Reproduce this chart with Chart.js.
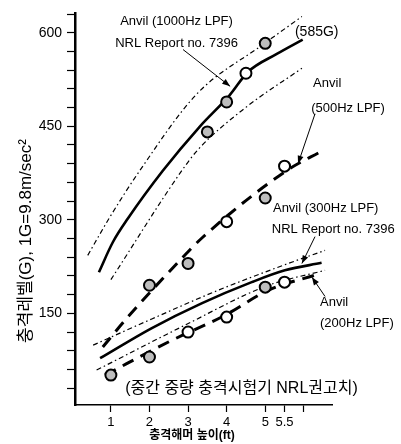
<!DOCTYPE html>
<html>
<head>
<meta charset="utf-8">
<script src="https://cdn.jsdelivr.net/npm/chart.js@4.4.1/dist/chart.umd.min.js"></script>
<style>
  body { margin: 0; background: #fff; }
  #wrap { width: 401px; height: 444px; }
</style>
</head>
<body>
<div id="wrap"><canvas id="impactChart" width="401" height="444"></canvas></div>
<script>
// hammer drop height (ft) vs shock level (G)
const xTicks = [1, 2, 3, 4, 5, 5.5, 6];
const xTickLabels = ['1', '2', '3', '4', '5', '5.5', ''];
const yTicks = [30, 60, 90, 120, 150, 180, 210, 240, 270, 300, 330, 360, 390, 420, 450, 480, 510, 540, 570, 600, 630];
const yLabelled = [150, 300, 450, 600];

// NRL Report no. 7396 - upper curve with its band
const nrlHighX = [0.69, 1.05, 1.44, 2.35, 3.31, 4.08, 4.55, 5.30, 5.97];
const nrlHighY = [216, 264, 302, 379, 450, 500, 537, 566, 589];
const nrlHighTopX = [0.40, 0.97, 1.75, 3.23, 4.94, 5.95];
const nrlHighTopY = [243, 304, 379, 502, 581, 626];
const nrlHighBotX = [1.0, 2.84, 3.25, 4.47, 5.95];
const nrlHighBotY = [204, 379, 412, 479, 543];

// Anvil (500Hz LPF)
const anvil500X = [0.79, 1.41, 2.79, 3.38, 5.56, 6.49];
const anvil500Y = [96, 142, 235, 272, 379, 411];

// NRL Report no. 7396 - lower curve with its band
const nrlLowX = [0.72, 2.05, 3.35, 4.65, 5.51, 6.46];
const nrlLowY = [78, 126, 166, 200, 219, 231];
const nrlLowTopX = [0.54, 2.06, 3.78, 5.51, 6.55];
const nrlLowTopY = [99, 141, 187, 228, 251];
const nrlLowBotX = [0.63, 2.92, 5.04, 6.55];
const nrlLowBotY = [59, 131, 194, 219];

// Anvil (200Hz LPF)
const anvil200X = [0.85, 2.49, 3.96, 5.08, 6.33];
const anvil200Y = [51, 104, 147, 187, 212];

// measured points (shaded / open circles)
const shadedX = [3.5, 4, 5, 2, 3, 5, 1, 2, 5];
const shadedY = [441, 489, 583, 195, 230, 335, 51, 80, 192];
const openX = [4.5, 4, 5.5, 3, 4, 5.5];
const openY = [535, 297, 386, 120, 144, 200];

const FONT = '"Liberation Sans", Arial, "Noto Sans CJK KR", sans-serif';

function pts(xs, ys) {
    return xs.map((x, i) => ({ x: x, y: ys[i] }));
}

function curve(xs, ys, kind) {
    const ds = {
        type: 'line',
        data: pts(xs, ys),
        borderColor: '#000',
        pointRadius: 0,
        fill: false,
        cubicInterpolationMode: 'monotone',
        order: 2
    };
    if (kind === 'solid') {
        ds.borderWidth = 2.6;
    } else if (kind === 'dashdot') {
        ds.borderWidth = 1.2;
        ds.borderDash = [5, 3, 1.5, 3];
    } else {
        ds.borderWidth = 3;
        ds.borderDash = [12, 8];
    }
    return ds;
}

// text labels and arrows, placed in data units
const notes = [
    { text: 'Anvil (1000Hz LPF)', x: 1.24, y: 618, size: 13 },
    { text: 'NRL Report no. 7396', x: 1.11, y: 583, size: 13 },
    { text: '(585G)', x: 5.77, y: 601, size: 14 },
    { text: 'Anvil', x: 6.24, y: 518, size: 13 },
    { text: '(500Hz LPF)', x: 6.19, y: 479, size: 13 },
    { text: 'Anvil (300Hz LPF)', x: 5.20, y: 319, size: 13 },
    { text: 'NRL Report no. 7396', x: 5.17, y: 284, size: 13 },
    { text: 'Anvil', x: 6.42, y: 168, size: 13 },
    { text: '(200Hz LPF)', x: 6.42, y: 134, size: 13 },
    { text: '(중간 중량 충격시험기 NRL권고치)', x: 1.37, y: 30, size: 16 }
];
const arrows = [
    [2.87, 573, 4.09, 514],
    [6.29, 470, 5.85, 390],
    [6.29, 273, 5.95, 230],
    [6.55, 177, 6.21, 208]
];

const annotations = {
    id: 'annotations',
    afterDraw(chart) {
        const ctx = chart.ctx;
        const sx = chart.scales.x, sy = chart.scales.y;
        ctx.save();
        ctx.fillStyle = '#000';
        ctx.strokeStyle = '#000';
        ctx.textBaseline = 'middle';
        ctx.textAlign = 'left';
        notes.forEach(n => {
            ctx.font = n.size + 'px ' + FONT;
            ctx.fillText(n.text, sx.getPixelForValue(n.x), sy.getPixelForValue(n.y));
        });

        ctx.lineWidth = 1;
        arrows.forEach(a => {
            const x1 = sx.getPixelForValue(a[0]), y1 = sy.getPixelForValue(a[1]);
            const x2 = sx.getPixelForValue(a[2]), y2 = sy.getPixelForValue(a[3]);
            const ang = Math.atan2(y2 - y1, x2 - x1);
            ctx.beginPath();
            ctx.moveTo(x1, y1);
            ctx.lineTo(x2, y2);
            ctx.stroke();
            ctx.beginPath();
            ctx.moveTo(x2, y2);
            ctx.lineTo(x2 - 8 * Math.cos(ang) + 3 * Math.sin(ang), y2 - 8 * Math.sin(ang) - 3 * Math.cos(ang));
            ctx.lineTo(x2 - 8 * Math.cos(ang) - 3 * Math.sin(ang), y2 - 8 * Math.sin(ang) + 3 * Math.cos(ang));
            ctx.closePath();
            ctx.fill();
        });

        // axis titles
        ctx.textAlign = 'center';
        ctx.font = '17px ' + FONT;
        ctx.translate(26, 241);
        ctx.rotate(-Math.PI / 2);
        ctx.fillText('충격레벨(G), 1G=9.8m/sec²', 0, 0);
        ctx.setTransform(1, 0, 0, 1, 0, 0);
        ctx.font = 'bold 12px ' + FONT;
        ctx.fillText('충격해머 높이(ft)', 192, 436);
        ctx.restore();
    }
};

const ctx = document.getElementById('impactChart').getContext('2d');
new Chart(ctx, {
    type: 'scatter',
    data: {
        datasets: [
            {
                data: pts(shadedX, shadedY),
                pointRadius: 5.5,
                pointBorderWidth: 2,
                borderColor: '#000',
                backgroundColor: '#bdbdbd',
                order: 0
            },
            {
                data: pts(openX, openY),
                pointRadius: 5.5,
                pointBorderWidth: 2,
                borderColor: '#000',
                backgroundColor: '#fff',
                order: 0
            },
            curve(nrlHighX, nrlHighY, 'solid'),
            curve(nrlHighTopX, nrlHighTopY, 'dashdot'),
            curve(nrlHighBotX, nrlHighBotY, 'dashdot'),
            curve(anvil500X, anvil500Y, 'dashed'),
            curve(nrlLowX, nrlLowY, 'solid'),
            curve(nrlLowTopX, nrlLowTopY, 'dashdot'),
            curve(nrlLowBotX, nrlLowBotY, 'dashdot'),
            curve(anvil200X, anvil200Y, 'dashed')
        ]
    },
    options: {
        responsive: false,
        animation: false,
        devicePixelRatio: 1,
        layout: { padding: { left: 0, top: 12, right: 69, bottom: 0 } },
        plugins: { legend: { display: false }, tooltip: { enabled: false } },
        scales: {
            x: {
                type: 'linear',
                min: 0.07,
                max: 6.73,
                border: { display: true, color: '#000', width: 1.5 },
                grid: { drawOnChartArea: false, drawTicks: true, tickLength: 7, tickColor: '#000', tickWidth: 1.2 },
                ticks: {
                    color: '#000',
                    font: { family: FONT, size: 13 },
                    padding: 3,
                    autoSkip: false,
                    maxRotation: 0,
                    callback: (v) => {
                        const i = xTicks.indexOf(v);
                        return i >= 0 ? xTickLabels[i] : '';
                    }
                },
                afterBuildTicks: (axis) => { axis.ticks = xTicks.map(v => ({ value: v })); },
                afterFit: (axis) => { axis.height = 39; }
            },
            y: {
                type: 'linear',
                min: 3,
                max: 631,
                border: { display: true, color: '#000', width: 2.5 },
                grid: { drawOnChartArea: false, drawTicks: true, tickLength: 8, tickColor: '#000', tickWidth: 1.2 },
                ticks: {
                    color: '#000',
                    font: { family: FONT, size: 14 },
                    padding: 5,
                    autoSkip: false,
                    callback: (v) => yLabelled.includes(v) ? String(v) : ''
                },
                afterBuildTicks: (axis) => { axis.ticks = yTicks.map(v => ({ value: v })); },
                afterFit: (axis) => { axis.width = 75; }
            }
        }
    },
    plugins: [annotations]
});
</script>
</body>
</html>
